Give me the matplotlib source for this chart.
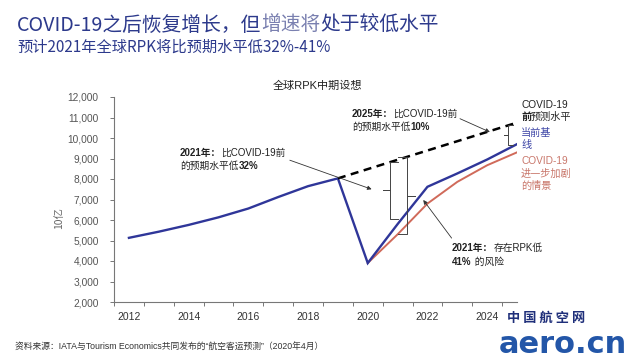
import matplotlib
matplotlib.use("Agg")
import matplotlib.pyplot as plt
import numpy as np
from matplotlib.ticker import FuncFormatter, MultipleLocator

# ---------------- data ----------------
years = [2012, 2013, 2014, 2015, 2016, 2017, 2018, 2019, 2020, 2021, 2022, 2023, 2024, 2025]
baseline = [5130, 5430, 5760, 6130, 6560, 7120, 7650, 8030, 3900, 5800, 7620, 8270, 8950, 9700]
worse_years = [2020, 2021, 2022, 2023, 2024, 2025]
worse = [3900, 5300, 6800, 7860, 8670, 9300]
pre_years = [2019, 2025]
pre_covid = [8030, 10750]
xtick_years = [2012, 2014, 2016, 2018, 2020, 2022, 2024]
yticks = [2000, 3000, 4000, 5000, 6000, 7000, 8000, 9000, 10000, 11000, 12000]

W, H = 640, 360
FAM = ["Liberation Sans", "Noto Sans CJK SC", "DejaVu Sans"]
CJK = ["Noto Sans CJK SC", "DejaVu Sans"]
NAVY = "#2d3a8c"
BLUE = "#2f3699"
RED = "#d06a5a"

fig = plt.figure(figsize=(W / 100, H / 100), dpi=100)
fig.patch.set_facecolor("white")
ax = fig.add_axes([114 / W, 1 - 302 / H, 403 / W, 205 / H])

ax.plot(years, baseline, color=BLUE, lw=1.7, solid_joinstyle="miter", zorder=3)
ax.plot(worse_years, worse, color=RED, lw=1.4, zorder=2)
ax.plot(pre_years, pre_covid, color="black", lw=1.8, ls=(0, (3.2, 2.2)), zorder=3)

ax.set_xlim(2011.5, 2025.0)
ax.set_ylim(2000, 12000)
ax.set_xticks(xtick_years)
ax.set_xticklabels([str(y) for y in xtick_years])
ax.xaxis.set_minor_locator(MultipleLocator(1, offset=0.5))
ax.set_yticks(yticks)
ax.yaxis.set_major_formatter(FuncFormatter(lambda v, p: f"{int(v):,}"))
ax.tick_params(axis="x", which="major", length=0, pad=7, labelsize=7.5, labelcolor="#333")
ax.tick_params(axis="x", which="minor", length=3, width=0.7, color="#777", direction="out")
ax.tick_params(axis="y", length=3, width=0.7, color="#777", direction="out", pad=8,
               labelsize=7.3, labelcolor="#555")
for lab in ax.get_xticklabels() + ax.get_yticklabels():
    lab.set_family(FAM)
for s in ["top", "right"]:
    ax.spines[s].set_visible(False)
for s in ["left", "bottom"]:
    ax.spines[s].set_color("#777")
    ax.spines[s].set_linewidth(0.8)
ax.set_ylabel("10亿", family=CJK, fontsize=7.5, color="#666")
ax.yaxis.set_label_coords(-0.125, 0.41)


# brackets
def bracket(x, top, bottom, stub, tip):
    mid = (top + bottom) / 2
    xs = [x + stub, x, x, x + tip, x, x, x + stub]
    ys = [top, top, mid, mid, mid, bottom, bottom]
    ax.plot(xs, ys, color="#444", lw=0.7, zorder=4)


def dashed_at(x):
    return np.interp(x, pre_years, pre_covid)


bracket(2020.75, dashed_at(2020.75), np.interp(2021.15, years, baseline), 0.28, -0.25)
bracket(2021.3, dashed_at(2021.3), np.interp(2021.0, worse_years, worse), -0.28, 0.28)
bracket(2024.7, dashed_at(2024.7), np.interp(2024.95, years, baseline), 0.15, -0.15)

arrow = dict(arrowstyle="-|>", color="#333", lw=0.6, mutation_scale=6, shrinkA=0, shrinkB=0)
ax.annotate("", xy=(2020.13, 7500), xytext=(2017.39, 8917), arrowprops=arrow)
ax.annotate("", xy=(2021.86, 6976), xytext=(2022.81, 5117), arrowprops=arrow)
ax.annotate("", xy=(2024.09, 10291), xytext=(2023.09, 10942), arrowprops=arrow)

renderer = fig.canvas.get_renderer()


def rich(x_px, y_px, parts, size=7, color="#222", family=FAM):
    x = x_px
    for s, bold, *c in parts:
        t = fig.text(x / W, 1 - y_px / H, s, fontsize=size, family=family,
                     fontweight="bold" if bold else "normal",
                     color=c[0] if c else color, ha="left", va="center")
        x += t.get_window_extent(renderer).width


# headline
rich(17, 25, [("COVID-19之后恢复增长，但", False, NAVY), ("增速将", False, "#7a80b0"),
              ("处于较低水平", False, NAVY)], size=14.2, family=CJK)
rich(17, 47, [("预计2021年全球RPK将比预期水平低32%-41%", False, NAVY)], size=11, family=CJK)

# chart title
fig.text(317 / W, 1 - 86 / H, "全球RPK中期设想", fontsize=8, family=FAM, color="#222",
         ha="center", va="center")

# annotations
rich(180, 153, [("2021年：", True), ("比COVID-19前", False)])
rich(180, 166, [("的预期水平低", False), ("32%", True)])
rich(352, 114, [("2025年：", True), ("比COVID-19前", False)])
rich(352, 127, [("的预期水平低", False), ("10%", True)])
rich(452, 248, [("2021年：", True), ("存在RPK低", False)])
rich(452, 262, [("41%", True), (" 的风险", False)])

# right-side series labels
rich(521, 105, [("COVID-19", False)], size=7.3)
rich(521, 117, [("前", True), ("预测水平", False)], size=7.3)
rich(521, 133, [("当前基", False)], size=7.3, color="#3d45a6")
rich(521, 145, [("线", False)], size=7.3, color="#3d45a6")
rich(521, 161, [("COVID-19", False)], size=7.3, color="#c9776b")
rich(521, 174, [("进一步加剧", False)], size=7.3, color="#c9776b")
rich(521, 186, [("的情景", False)], size=7.3, color="#c9776b")

# footer
fig.text(15 / W, 1 - 346 / H,
         "资料来源：IATA与Tourism Economics共同发布的“航空客运预测”（2020年4月）",
         fontsize=6.3, family=FAM, color="#333", ha="left", va="center")

# watermark
fig.text(546 / W, 1 - 318 / H, "中 国 航 空 网", fontsize=9.5, family=CJK, fontweight="bold",
         color="#1f2f7a", ha="center", va="center")
fig.text(563 / W, 1 - 359 / H, "aero.cn", fontsize=22, family=["DejaVu Sans"],
         fontweight="bold", color="#2356a8", ha="center", va="bottom")

fig.savefig("out.png", dpi=100, facecolor="white")
